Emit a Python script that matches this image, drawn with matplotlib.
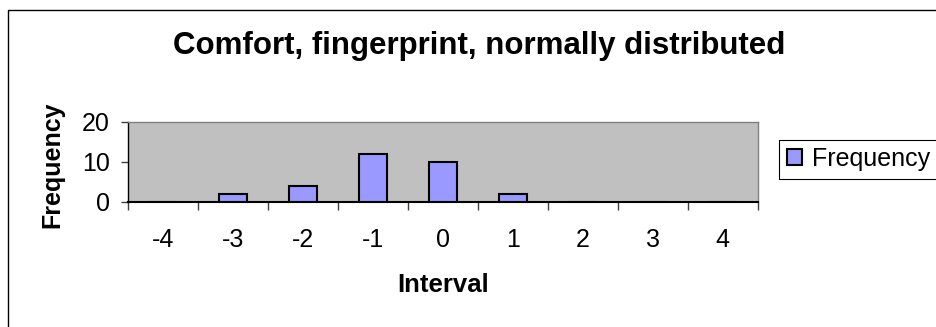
import numpy as np
import matplotlib.pyplot as plt
from matplotlib.patches import Rectangle

plt.rcParams["font.family"] = ["Liberation Sans", "DejaVu Sans"]

intervals = ["-4", "-3", "-2", "-1", "0", "1", "2", "3", "4"]
frequency = [0, 2, 4, 12, 10, 2, 0, 0, 0]

fig = plt.figure(figsize=(9.36, 3.27), dpi=100)
W, H = 936, 327

# chart frame, open on the right and bottom
fig.patches.append(Rectangle((8 / W, -0.1), 1.2, 1 - 10 / H + 0.1,
                             transform=fig.transFigure, fill=False,
                             edgecolor="black", linewidth=1.0, clip_on=False))

ax = fig.add_axes([127.7 / W, 1 - 201.7 / H, 630 / W, 79.7 / H])
ax.set_facecolor("#C0C0C0")

x = np.arange(len(intervals))
ax.bar(x, frequency, width=0.4, color="#9999FF", edgecolor="black",
       linewidth=1.5, label="Frequency", zorder=3)

ax.set_xlim(-0.5, len(intervals) - 0.5)
ax.set_ylim(0, 20)
ax.set_yticks([0, 10, 20])
ax.set_yticklabels(["0", "10", "20"], fontsize=18)

# ticks sit on category boundaries, labels at the centres
ax.set_xticks(np.arange(len(intervals) + 1) - 0.5)
ax.set_xticklabels([])
ax.set_xticks(x, minor=True)
ax.set_xticklabels(intervals, minor=True, fontsize=18)
ax.tick_params(axis="x", which="major", direction="out", length=5.8,
               width=1, color="#404040")
ax.tick_params(axis="x", which="minor", length=0, pad=19)
ax.tick_params(axis="y", direction="out", length=5, width=1,
               color="#404040", pad=8)

for side in ["top", "right"]:
    ax.spines[side].set_color("#808080")
    ax.spines[side].set_linewidth(1.0)
ax.spines["bottom"].set_color("black")
ax.spines["bottom"].set_linewidth(1.5)
ax.spines["left"].set_color("black")
ax.spines["left"].set_linewidth(1.0)

fig.text(479 / W, 1 - 46 / H, "Comfort, fingerprint, normally distributed",
         ha="center", va="center", fontsize=22.5, fontweight="bold")
fig.text(442.7 / W, 1 - 285 / H, "Interval", ha="center", va="center",
         fontsize=18.5, fontweight="bold")
fig.text(52 / W, 1 - 165 / H, "Frequency", ha="center", va="center",
         rotation=90, fontsize=18, fontweight="bold")

# legend box runs past the right edge of the figure
leg = ax.legend(loc="upper left",
                bbox_to_anchor=(779 / W, 1 - 181.5 / H, 170 / W, 42 / H),
                bbox_transform=fig.transFigure, mode="expand", fontsize=18,
                fancybox=False, framealpha=1, edgecolor="black",
                handlelength=0.6, handleheight=0.6, handletextpad=0.4,
                borderpad=0.3, borderaxespad=0)
leg.get_frame().set_linewidth(0.8)

fig.savefig("out.png", dpi=100)
